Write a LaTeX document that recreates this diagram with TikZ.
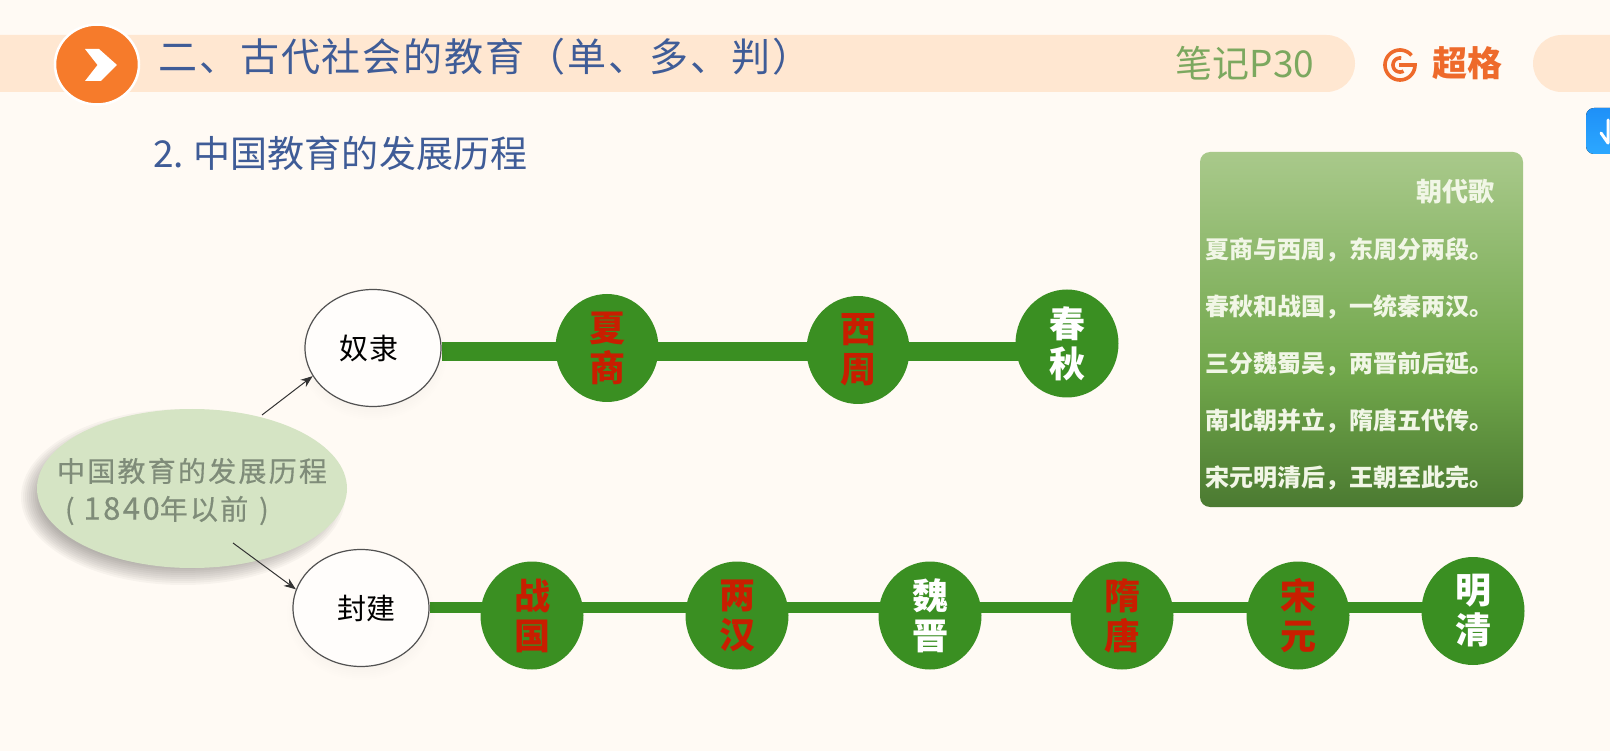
\documentclass[tikz,border=0pt]{standalone}
\usepackage{fontspec}
\setmainfont{Noto Sans CJK SC}
\usetikzlibrary{arrows.meta,shapes.geometric}
\definecolor{pagebg}{HTML}{FFFAF4}
\definecolor{barpeach}{HTML}{FFE7D1}
\definecolor{orangedot}{HTML}{F67B2B}
\definecolor{titleblue}{HTML}{3F5C97}
\definecolor{notegreen}{HTML}{7CA85F}
\definecolor{logoorange}{HTML}{EE6A2B}
\definecolor{dyngreen}{HTML}{3A8F22}
\definecolor{dynred}{HTML}{C81E00}
\definecolor{paleleaf}{HTML}{D5E4C4}
\definecolor{greytext}{HTML}{7F8C79}
\definecolor{poemtext}{HTML}{F1F6E6}
\definecolor{boxtop}{HTML}{A9C98B}
\definecolor{boxmid}{HTML}{71A74B}
\definecolor{boxbot}{HTML}{4B7A31}
\definecolor{tabtop}{HTML}{1E90F8}
\definecolor{tabbot}{HTML}{2CA8FF}
\pgfdeclareverticalshading{poemgrad}{100bp}{color(0bp)=(boxbot); color(25bp)=(boxbot); color(44bp)=(boxmid); color(75bp)=(boxtop); color(100bp)=(boxtop)}
\pgfdeclarelayer{bottom}
\pgfdeclarelayer{lines}
\pgfsetlayers{bottom,lines,main}
\tikzset{
  dyn/.style={ellipse,fill=dyngreen,minimum width=103pt,minimum height=108pt,inner sep=0pt,align=center,
    font=\fontsize{36}{40}\selectfont\bfseries},
  dynred/.style={dyn,text=dynred},
  dynwhite/.style={dyn,text=white},
  kind/.style={ellipse,draw=black!68,line width=1.2pt,fill=white!60!pagebg,minimum width=136pt,minimum height=117pt,inner sep=0pt,
    font=\fontsize{29}{32}\selectfont\addfontfeature{LetterSpace=2},text=black},
  track/.style={draw=dyngreen,line cap=butt},
  poem/.style={anchor=west,inner sep=0pt,text=poemtext,font=\fontsize{24}{24}\selectfont\bfseries},
  link/.style={draw=black!80,line width=1pt,-{Stealth[length=12pt,width=9pt]}},
}
\newcommand{\softshadow}[5]{% x y rx ry opacity
  \foreach \g in {0,2,...,18}{
    \fill[black,opacity=#5] (#1,#2) ellipse [x radius={#3+18-\g},y radius={#4+18-\g}];
  }}
\begin{document}
\begin{tikzpicture}[x=1pt,y=-1pt]
\useasboundingbox (0,0) rectangle (1610,751);
\begin{pgfonlayer}{bottom}
  \fill[pagebg] (0,0) rectangle (1610,751);
\end{pgfonlayer}
% header
\fill[barpeach,rounded corners=28.5pt] (-60,35) rectangle (1355,92);
\fill[barpeach,rounded corners=28.5pt] (1533,35) rectangle (1700,92);
\node[ellipse,fill=orangedot,draw=white,line width=2.5pt,minimum width=84pt,minimum height=80pt,inner sep=0pt] (dot) at (97,64.5) {};
\fill[white] (85,49) -- (99,49) -- (117,65) -- (101,81) -- (85,81) -- (97.5,65) -- cycle;
\node[anchor=west,inner sep=0pt,text=titleblue,font=\fontsize{39}{42}\selectfont\addfontfeature{LetterSpace=5}] (title) at (158,57) {二、古代社会的教育（单、多、判）};
\node[anchor=west,inner sep=0pt,text=titleblue,font=\fontsize{37}{42}\selectfont\addfontfeature{LetterSpace=0.5}] (head) at (153,153) {2.\hspace{9pt}中国教育的发展历程};
\node[anchor=center,inner sep=0pt,text=notegreen,font=\fontsize{37}{40}\selectfont] (note) at (1245,63) {笔记P30};
% logo
\draw[logoorange,line width=3.6pt] plot[domain=40:360,samples=50,smooth] ({1400+15*cos(\x)},{65-15*sin(\x)}) -- (1399,65);
\draw[logoorange,line width=3.6pt] plot[domain=80:300,samples=30,smooth] ({1400+7*cos(\x)},{65-7*sin(\x)});
\node[inner sep=0pt,text=logoorange,font=\fontsize{35}{38}\selectfont\bfseries] (logo) at (1467,63) {超格};
% blue tab
\fill[top color=tabtop,bottom color=tabbot,rounded corners=8pt] (1586,108) rectangle (1640,154);
\draw[white,line width=3pt,line cap=round,line join=round] (1608,120) -- (1608,143) -- (1601,133);
% poem box
\path[shading=poemgrad,rounded corners=10pt] (1200,152) rectangle (1523,507);
\node[poem,anchor=east,font=\fontsize{26}{26}\selectfont\bfseries] (ptitle) at (1495,192) {朝代歌};
\node[poem] (p1) at (1205,250) {夏商与西周，东周分两段。};
\node[poem] (p2) at (1205,307) {春秋和战国，一统秦两汉。};
\node[poem] (p3) at (1205,364) {三分魏蜀吴，两晋前后延。};
\node[poem] (p4) at (1205,421) {南北朝并立，隋唐五代传。};
\node[poem] (p5) at (1205,478) {宋元明清后，王朝至此完。};
% shadows
\softshadow{183}{497}{144}{70}{0.03}
\softshadow{373}{354}{56}{48}{0.004}
\softshadow{361}{614}{56}{48}{0.004}
% central ellipse
\node[ellipse,fill=paleleaf,minimum width=310pt,minimum height=159pt,inner sep=0pt,
  label={[align=left,inner sep=0pt,yshift=-3pt,text=greytext,font=\fontsize{28}{38}\selectfont\addfontfeature{LetterSpace=8,FakeBold=0.4}]center:中国教育的发展历程\\\hspace*{8pt}(\hspace{9pt}{\fontsize{31}{38}\selectfont 1840}年以前\hspace{11pt})}] (main) at (192,488.5) {};
\node[kind] (nu) at (373,348) {奴隶\kern8pt};
\node[kind] (fj) at (361,608) {\hspace*{11pt}封建};
% dynasties
\node[dynred] (xs) at (607,348) {夏\\商};
\node[dynred] (xz) at (858,350) {西\\周};
\node[dynwhite] (cq) at (1067,343.5) {春\\秋};
\node[dynred] (zg) at (532,615.5) {战\\国};
\node[dynred] (lh) at (737,615.5) {两\\汉};
\node[dynwhite] (wj) at (930,615.5) {魏\\晋};
\node[dynred] (st) at (1122,615.5) {隋\\唐};
\node[dynred] (sy) at (1298,615.5) {宋\\元};
\node[dynwhite] (mq) at (1473,611) {明\\清};
% tracks
\coordinate (ya) at (0,351.5);
\coordinate (yb) at (0,607.5);
\begin{pgfonlayer}{lines}
  \draw[track,line width=19pt] (nu.east |- ya) -- (xs.center |- ya);
  \draw[track,line width=19pt] (xs.center |- ya) -- (xz.center |- ya);
  \draw[track,line width=19pt] (xz.center |- ya) -- (cq.center |- ya);
  \draw[track,line width=11pt] (fj.east |- yb) -- (zg.center |- yb);
  \draw[track,line width=11pt] (zg.center |- yb) -- (lh.center |- yb);
  \draw[track,line width=11pt] (lh.center |- yb) -- (wj.center |- yb);
  \draw[track,line width=11pt] (wj.center |- yb) -- (st.center |- yb);
  \draw[track,line width=11pt] (st.center |- yb) -- (sy.center |- yb);
  \draw[track,line width=11pt] (sy.center |- yb) -- (mq.center |- yb);
\end{pgfonlayer}
% arrows
\coordinate (a1) at (262,415);
\coordinate (a2) at (233,543);
\draw[link] (a1) -- (nu.205);
\draw[link] (a2) -- (fj.164);
\end{tikzpicture}
\end{document}
